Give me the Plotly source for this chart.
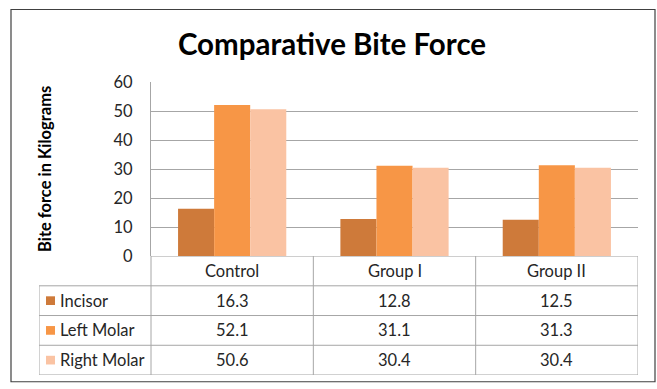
import plotly.graph_objects as go

categories = ["Control", "Group I", "Group II"]
series_names = ["Incisor", "Left Molar", "Right Molar"]
incisor = [16.3, 12.8, 12.5]
left_molar = [52.1, 31.1, 31.3]
right_molar = [50.6, 30.4, 30.4]
values = [incisor, left_molar, right_molar]
colors = ["#CE7A3A", "#F79646", "#FAC3A3"]
y_ticks = [0, 10, 20, 30, 40, 50, 60]

W, H = 657, 389
ML, MR, MT, MB = 39, 19, 82, 4
pw, ph = W - ML - MR, H - MT - MB
d0 = (151 - ML) / pw                    # start of bar plot area
ydom0 = (385 - 262) / ph                # table height fraction
px_per_unit = (pw * (1 - d0)) / 3.0
x2_left = -0.5 - (pw * d0) / px_per_unit
row_px = (ph * ydom0) / 4.0

FONT = "Lato, Calibri, Carlito, sans-serif"
GRID = "#A6A6A6"
TXT = "#262626"
TSIZE = 16.5

fig = go.Figure()
for name, vals, col in zip(series_names, values, colors):
    fig.add_trace(go.Bar(x=categories, y=vals, name=name, marker=dict(color=col, line=dict(width=0)),
                         xaxis="x", yaxis="y", showlegend=False, hoverinfo="x+y+name"))

# invisible trace for the table subplot
fig.add_trace(go.Scatter(x=[0], y=[0], xaxis="x2", yaxis="y2", mode="markers",
                         marker=dict(opacity=0), showlegend=False, hoverinfo="skip"))

annotations = []
shapes = []

# Table cells text
for i, cat in enumerate(categories):
    annotations.append(dict(x=i, y=0.5, xref="x2", yref="y2", text=cat, showarrow=False,
                            font=dict(family=FONT, size=TSIZE, color=TXT)))
    for r, vals in enumerate(values):
        annotations.append(dict(x=i, y=r + 1.5, xref="x2", yref="y2", text=f"{vals[i]:.1f}",
                                showarrow=False, font=dict(family=FONT, size=TSIZE, color=TXT)))

# Legend keys + names
for r, (name, col) in enumerate(zip(series_names, colors)):
    yc = r + 1.5
    annotations.append(dict(x=x2_left + 19 / px_per_unit, y=yc, xref="x2", yref="y2", text=name,
                            showarrow=False, xanchor="left",
                            font=dict(family=FONT, size=TSIZE, color=TXT)))
    half = 4.5 / row_px
    shapes.append(dict(type="rect", xref="x2", yref="y2",
                       x0=x2_left + 7 / px_per_unit, x1=x2_left + 16 / px_per_unit,
                       y0=yc - half, y1=yc + half, fillcolor=col, line=dict(width=0)))

# Table grid lines
line = dict(color=GRID, width=1)
for yv in [1, 2, 3, 4]:
    shapes.append(dict(type="line", xref="x2", yref="y2", x0=x2_left, x1=2.5, y0=yv, y1=yv, line=line))
shapes.append(dict(type="line", xref="x2", yref="y2", x0=-0.5, x1=2.5, y0=0, y1=0, line=line))
for xv in [-0.5, 0.5, 1.5, 2.5]:
    shapes.append(dict(type="line", xref="x2", yref="y2", x0=xv, x1=xv, y0=0, y1=4, line=line))
shapes.append(dict(type="line", xref="x2", yref="y2", x0=x2_left, x1=x2_left, y0=1, y1=4, line=line))

# Outer chart border
shapes.append(dict(type="rect", xref="paper", yref="paper",
                   x0=(11 - ML) / pw, x1=(655 - ML) / pw,
                   y0=(385 - 392) / ph, y1=(385 - 7) / ph,
                   line=dict(color="#404040", width=1.2), fillcolor="rgba(0,0,0,0)"))

# Y-axis title
annotations.append(dict(x=(45 - ML) / pw, y=(385 - 172) / ph, xref="paper", yref="paper",
                        xanchor="center", yanchor="middle",
                        text="<b>Bite force in Kilograms</b>", textangle=-90, showarrow=False,
                        font=dict(family=FONT, size=16.5, color="#000000")))

fig.update_layout(
    width=W, height=H,
    margin=dict(l=ML, r=MR, t=MT, b=MB),
    paper_bgcolor="white", plot_bgcolor="white",
    barmode="group", bargap=1 / 3, bargroupgap=0,
    title=dict(text="<b>Comparative Bite Force</b>", x=332 / W, xref="container", xanchor="center",
               y=1 - 45 / H, yanchor="middle", font=dict(family=FONT, size=29.5, color="#000000")),
    xaxis=dict(domain=[d0, 1], anchor="y", range=[-0.5, 2.5], showticklabels=False,
               showgrid=False, zeroline=False, showline=False, ticks=""),
    yaxis=dict(domain=[ydom0, 1], anchor="x", range=[0, 60], tickvals=y_ticks,
               showgrid=True, gridcolor=GRID, gridwidth=1, zeroline=False,
               showline=True, linecolor=GRID, linewidth=1, ticks="",
               ticklabelstandoff=14,
               tickfont=dict(family=FONT, size=16.5, color=TXT)),
    xaxis2=dict(domain=[0, 1], anchor="y2", range=[x2_left, 2.5], visible=False),
    yaxis2=dict(domain=[0, ydom0], anchor="x2", range=[4, 0], visible=False),
    annotations=annotations,
    shapes=shapes,
)

fig.write_html("out.html")
